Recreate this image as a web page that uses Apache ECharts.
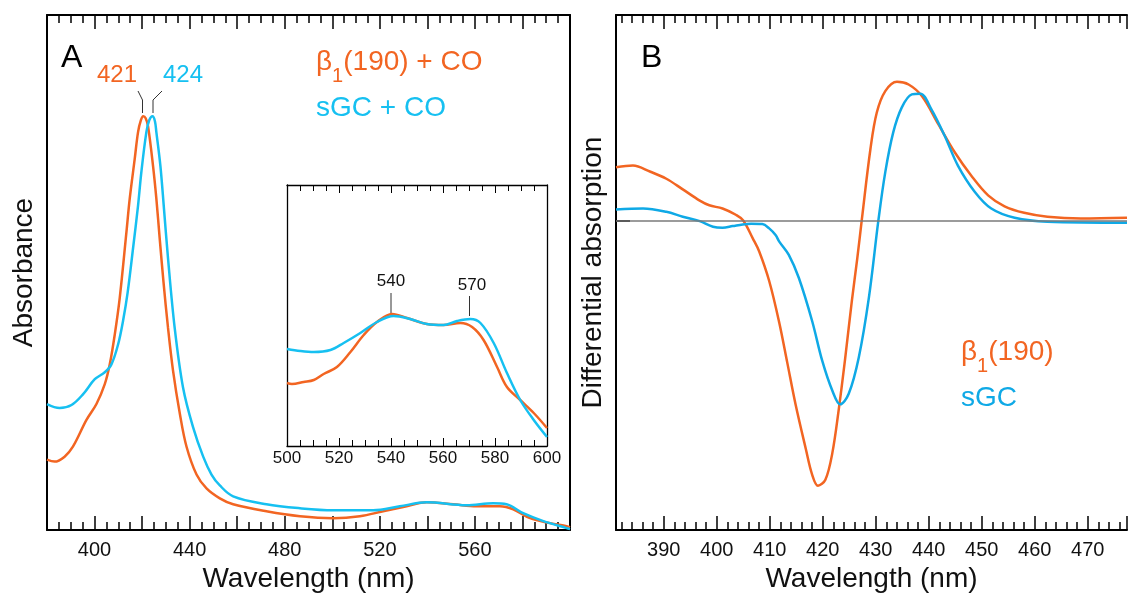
<!DOCTYPE html>
<html>
<head>
<meta charset="utf-8">
<script src="https://cdn.jsdelivr.net/npm/echarts@6/dist/echarts.min.js"></script>
</head>
<body style="margin:0; background:#fff">
<div id="container" style="width:1130px; height:598px"></div>
<script>
var ORANGE = '#F26522';
var CYAN = '#16C0F1';
var BLUE = '#0FA9E6';
var FONT = '"Liberation Sans", Arial, sans-serif';

// Panel A: absolute spectra (arbitrary units)
var nmA_b1 = [380, 383.2, 387.4, 390.9, 396.6, 400.8, 404.3, 406.4, 408.5, 410.6, 413.4, 414.8, 416.9, 418.3, 419.5, 420.5, 421.5, 422.5, 424.6, 426, 427.4, 429, 430.9, 433, 435.9, 438.7, 442.9, 447.1, 452.7, 458.3, 472.3, 486.4, 500.4, 511.6, 521.4, 531.3, 539.7, 550.9, 560.7, 570.5, 576.1, 583.2, 591.6, 598.6, 600];
var absA_b1 = [0.71, 0.69, 0.74, 0.84, 1.11, 1.27, 1.47, 1.67, 1.97, 2.34, 3.0, 3.34, 3.74, 4.01, 4.13, 4.17, 4.15, 4.07, 3.67, 3.34, 2.94, 2.5, 2.04, 1.61, 1.17, 0.84, 0.56, 0.42, 0.32, 0.26, 0.19, 0.14, 0.12, 0.14, 0.19, 0.24, 0.28, 0.26, 0.24, 0.24, 0.21, 0.12, 0.07, 0.04, 0.03];
var nmA_sgc = [380, 385.3, 390.3, 395.2, 400.1, 404.3, 407.1, 409.9, 412, 413.9, 416.2, 418.3, 419.7, 421.8, 423, 424.4, 425.4, 426, 427.7, 429.2, 430.9, 433.7, 437.2, 441.4, 445.7, 449.2, 452.7, 458.3, 472.3, 486.4, 500.4, 517.2, 528.4, 539.7, 556.5, 567.7, 573.3, 580.3, 588.8, 598.6, 600];
var absA_sgc = [1.27, 1.23, 1.26, 1.37, 1.52, 1.59, 1.67, 1.87, 2.11, 2.39, 2.84, 3.27, 3.61, 4.01, 4.13, 4.17, 4.12, 4.01, 3.67, 3.24, 2.74, 2.04, 1.44, 1.04, 0.74, 0.56, 0.45, 0.34, 0.26, 0.22, 0.2, 0.2, 0.24, 0.28, 0.25, 0.27, 0.26, 0.17, 0.09, 0.02, 0.01];

// Inset: 500-600 nm region
var nmIn_b1 = [500, 501.9, 506.4, 510.3, 514.1, 519.2, 524.4, 529.5, 534.6, 540.4, 546.2, 553.8, 560.2, 566.7, 571.2, 575.6, 580.8, 584.6, 589.7, 594.9, 600];
var absIn_b1 = [0.63, 0.62, 0.64, 0.66, 0.72, 0.79, 0.94, 1.11, 1.24, 1.32, 1.28, 1.22, 1.21, 1.23, 1.19, 1.06, 0.79, 0.59, 0.46, 0.33, 0.18];
var nmIn_sgc = [500, 505.1, 510.3, 516.7, 521.8, 528.2, 534.6, 541, 547.4, 553.8, 560.2, 565.4, 570.5, 574.4, 579.5, 584.6, 589.7, 594.9, 600];
var absIn_sgc = [0.97, 0.95, 0.94, 0.96, 1.03, 1.13, 1.24, 1.3, 1.27, 1.22, 1.21, 1.25, 1.27, 1.23, 1.03, 0.73, 0.46, 0.26, 0.09];

// Panel B: difference spectra
var nmB_b1 = [381, 384.2, 387.4, 390.5, 393.6, 396.8, 398.6, 401.1, 403.6, 405, 406.8, 408, 409.9, 411.8, 413.3, 414.9, 416.8, 418, 419.1, 420.5, 421.8, 423, 424.3, 425.5, 426.5, 427.4, 429, 430.2, 431.8, 434, 436.2, 438.7, 441.8, 444.9, 448, 451.2, 454.3, 458, 462.4, 468.7, 477.4];
var difB_b1 = [5.37, 5.53, 4.93, 4.2, 3.13, 2.0, 1.53, 1.2, 0.57, 0, -1.8, -3.1, -6.1, -10.3, -14.3, -18.6, -23.0, -25.6, -26.73, -26.13, -23.47, -19.13, -13.6, -8.07, -3.9, 0.2, 7.2, 10.87, 13.03, 13.97, 13.7, 12.53, 9.7, 6.87, 4.53, 2.53, 1.43, 0.77, 0.37, 0.2, 0.27];
var nmB_sgc = [381, 386.1, 390.5, 393.6, 396.8, 399.3, 401.1, 403, 404.9, 406.5, 408.6, 409.9, 411.1, 411.8, 413.6, 415.5, 418, 419.9, 421.8, 423.3, 424.9, 426.8, 428.7, 430.5, 431.8, 433.3, 434.9, 436.8, 438.4, 440.5, 443, 445.5, 448.7, 451.8, 456.2, 462.4, 477.4];
var difB_sgc = [1.1, 1.2, 0.87, 0.37, -0.07, -0.63, -0.73, -0.57, -0.4, -0.33, -0.37, -0.8, -1.47, -2.13, -3.47, -5.8, -10.13, -14.13, -17.13, -18.53, -17.47, -13.8, -7.8, 0, 4.87, 8.87, 11.37, 12.7, 12.77, 11.2, 8.53, 5.53, 2.87, 1.2, 0.27, -0.13, -0.23];

function zip(xs, ys) {
    return xs.map(function (x, i) { return [x, ys[i]]; });
}

var txt = { color: '#111', fontFamily: FONT };

function xAxis(grid, pos, min, max, opts) {
    var a = {
        type: 'value', gridIndex: grid, position: pos, min: min, max: max,
        axisLine: { show: opts.line !== false, onZero: false, lineStyle: { color: '#000', width: opts.lw || 2 } },
        axisTick: { show: true, inside: true, length: opts.tick, lineStyle: { color: '#000', width: opts.tw || 1.5 } },
        axisLabel: { show: false },
        splitLine: { show: false }
    };
    if (opts.interval) a.interval = opts.interval;
    if (opts.step) { a.minInterval = opts.step; a.maxInterval = opts.step; }
    if (opts.minor) a.minorTick = { show: true, splitNumber: opts.minor, length: opts.minorLen, lineStyle: { color: '#000', width: opts.tw || 1.5 } };
    if (opts.labels) a.axisLabel = Object.assign({ show: true, margin: opts.margin, fontSize: opts.fs, formatter: opts.labels }, txt);
    if (opts.name) {
        a.name = opts.name;
        a.nameLocation = 'middle';
        a.nameGap = 34;
        a.nameTextStyle = Object.assign({ fontSize: 28 }, txt);
    }
    return a;
}

function frameY(grid, pos, min, max, lw) {
    return {
        type: 'value', gridIndex: grid, position: pos, min: min, max: max,
        axisLine: { show: true, onZero: false, lineStyle: { color: '#000', width: lw } },
        axisTick: { show: false }, axisLabel: { show: false }, splitLine: { show: false }
    };
}

function line(name, data, color, xi, yi) {
    return {
        name: name, type: 'line', data: data, xAxisIndex: xi, yAxisIndex: yi,
        showSymbol: false, smooth: 0.35, silent: true,
        lineStyle: { color: color, width: 2.5 }, itemStyle: { color: color }
    };
}

var yA = frameY(0, 'left', 0, 5.19, 2);
yA.name = 'Absorbance';
yA.nameLocation = 'middle';
yA.nameGap = 9;
yA.nameTextStyle = Object.assign({ fontSize: 28 }, txt);

var yB = frameY(2, 'left', -31.2, 20.7, 2);
yB.interval = 31.2;
yB.axisTick = { show: true, inside: true, length: 14, lineStyle: { color: '#000', width: 2 } };
yB.name = 'Differential absorption';
yB.nameLocation = 'middle';
yB.nameGap = 9;
yB.nameTextStyle = Object.assign({ fontSize: 28 }, txt);

var labA = function (v) { return (v % 40 === 0 && v > 380 && v < 600) ? String(v) : ''; };
var labB = function (v) { return (v % 10 === 0) ? String(v) : ''; };

var orangeB = line('β1(190)', zip(nmB_b1, difB_b1), ORANGE, 4, 4);
orangeB.markLine = {
    silent: true, symbol: 'none', label: { show: false },
    lineStyle: { color: '#7a7a7a', width: 1.5, type: 'solid' },
    data: [{ yAxis: 0 }]
};
orangeB.z = 3;

var chart = echarts.init(document.getElementById('container'));
chart.setOption({
    animation: false,
    backgroundColor: '#fff',
    grid: [
        { left: 47, right: 560, top: 15, bottom: 64 },
        { left: 287, right: 583, top: 185, bottom: 152 },
        { left: 616, right: 0, top: 15, bottom: 64 }
    ],
    xAxis: [
        xAxis(0, 'bottom', 380, 600, { interval: 20, tick: 14, minor: 4, minorLen: 8, labels: labA, margin: 10, fs: 20, name: 'Wavelength (nm)' }),
        xAxis(0, 'top', 380, 600, { interval: 20, tick: 14, minor: 4, minorLen: 8 }),
        xAxis(1, 'bottom', 500, 600, { interval: 20, tick: 8, minor: 4, minorLen: 6, lw: 1.3, tw: 1, labels: function (v) { return String(v); }, margin: 4, fs: 17 }),
        xAxis(1, 'top', 500, 600, { interval: 20, tick: 8, minor: 4, minorLen: 6, lw: 1.3, tw: 1 }),
        xAxis(2, 'bottom', 381, 477.4, { step: 10, tick: 14, labels: labB, margin: 10, fs: 20, name: 'Wavelength (nm)' }),
        xAxis(2, 'bottom', 381, 477.4, { step: 2, tick: 8, line: false }),
        xAxis(2, 'top', 381, 477.4, { step: 10, tick: 14 }),
        xAxis(2, 'top', 381, 477.4, { step: 2, tick: 8, line: false })
    ],
    yAxis: [
        yA,
        frameY(0, 'right', 0, 5.19, 2),
        frameY(1, 'left', 0, 2.61, 1.3),
        frameY(1, 'right', 0, 2.61, 1.3),
        yB
    ],
    series: [
        line('β1(190) + CO', zip(nmA_b1, absA_b1), ORANGE, 0, 0),
        line('sGC + CO', zip(nmA_sgc, absA_sgc), CYAN, 0, 0),
        line('β1(190) + CO inset', zip(nmIn_b1, absIn_b1), ORANGE, 2, 2),
        line('sGC + CO inset', zip(nmIn_sgc, absIn_sgc), CYAN, 2, 2),
        orangeB,
        line('sGC', zip(nmB_sgc, difB_sgc), BLUE, 4, 4)
    ],
    graphic: [
        { type: 'text', x: 61, y: 58, style: { text: 'A', fontSize: 32, fontFamily: FONT, fill: '#000', verticalAlign: 'middle', textVerticalAlign: 'middle' } },
        { type: 'text', x: 641, y: 58, style: { text: 'B', fontSize: 32, fontFamily: FONT, fill: '#000', verticalAlign: 'middle', textVerticalAlign: 'middle' } },
        { type: 'text', x: 117, y: 75, style: { text: '421', fontSize: 24, fontFamily: FONT, fill: ORANGE, align: 'center', textAlign: 'center', verticalAlign: 'middle', textVerticalAlign: 'middle' } },
        { type: 'text', x: 183, y: 75, style: { text: '424', fontSize: 24, fontFamily: FONT, fill: CYAN, align: 'center', textAlign: 'center', verticalAlign: 'middle', textVerticalAlign: 'middle' } },
        { type: 'polyline', shape: { points: [[138, 91], [142.5, 100], [142.5, 113]] }, style: { stroke: '#333', lineWidth: 1, fill: null } },
        { type: 'polyline', shape: { points: [[162, 91], [153, 100], [153, 113]] }, style: { stroke: '#333', lineWidth: 1, fill: null } },
        {
            type: 'text', x: 316, y: 62,
            style: {
                text: '{m|β}{s|1}{m|(190) + CO}', fill: ORANGE, fontFamily: FONT, fontSize: 28,
                verticalAlign: 'middle', textVerticalAlign: 'middle',
                rich: {
                    m: { fontSize: 28, lineHeight: 48, fill: ORANGE, fontFamily: FONT },
                    s: { fontSize: 20, lineHeight: 20, verticalAlign: 'bottom', fill: ORANGE, fontFamily: FONT }
                }
            }
        },
        { type: 'text', x: 316, y: 108, style: { text: 'sGC + CO', fontSize: 28, fontFamily: FONT, fill: CYAN, verticalAlign: 'middle', textVerticalAlign: 'middle' } },
        { type: 'text', x: 391, y: 281, style: { text: '540', fontSize: 17, fontFamily: FONT, fill: '#111', align: 'center', textAlign: 'center', verticalAlign: 'middle', textVerticalAlign: 'middle' } },
        { type: 'text', x: 472, y: 285, style: { text: '570', fontSize: 17, fontFamily: FONT, fill: '#111', align: 'center', textAlign: 'center', verticalAlign: 'middle', textVerticalAlign: 'middle' } },
        { type: 'line', shape: { x1: 391, y1: 293, x2: 391, y2: 313 }, style: { stroke: '#333', lineWidth: 1 } },
        { type: 'line', shape: { x1: 469.5, y1: 296, x2: 469.5, y2: 316 }, style: { stroke: '#333', lineWidth: 1 } },
        {
            type: 'text', x: 961, y: 352,
            style: {
                text: '{m|β}{s|1}{m|(190)}', fill: ORANGE, fontFamily: FONT, fontSize: 28,
                verticalAlign: 'middle', textVerticalAlign: 'middle',
                rich: {
                    m: { fontSize: 28, lineHeight: 48, fill: ORANGE, fontFamily: FONT },
                    s: { fontSize: 20, lineHeight: 20, verticalAlign: 'bottom', fill: ORANGE, fontFamily: FONT }
                }
            }
        },
        { type: 'text', x: 961, y: 398, style: { text: 'sGC', fontSize: 28, fontFamily: FONT, fill: BLUE, verticalAlign: 'middle', textVerticalAlign: 'middle' } }
    ]
});
</script>
</body>
</html>
